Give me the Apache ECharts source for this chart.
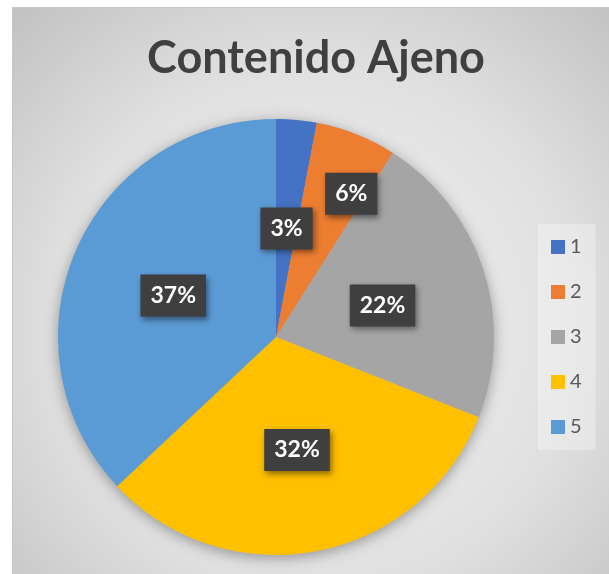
<!DOCTYPE html>
<html>
<head>
<meta charset="utf-8">
<script src="https://cdn.jsdelivr.net/npm/echarts@6/dist/echarts.min.js"></script>
<style>
  html, body { margin: 0; padding: 0; background: #fff; }
  #chart { width: 609px; height: 574px; }
</style>
</head>
<body>
<div id="chart"></div>
<script>
"use strict";

// datos (porcentajes)
const categories = ["1", "2", "3", "4", "5"];
const values     = [3, 6, 22, 32, 37];
const colors     = ["#4472C4", "#ED7D31", "#A5A5A5", "#FFC000", "#5B9BD5"];

const chart = echarts.init(document.getElementById("chart"), null, { renderer: "canvas" });

const pieData = categories.map((c, i) => ({
  name: c,
  value: values[i],
  itemStyle: { color: colors[i] }
}));

const option = {
  backgroundColor: "#ffffff",
  animation: false,
  graphic: [{
    type: "rect",
    z: -10,
    silent: true,
    shape: { x: 12.5, y: 7.5, width: 610, height: 580 },
    style: {
      fill: {
        type: "radial", x: 0.5, y: 0.55, r: 0.75,
        colorStops: [
          { offset: 0, color: "#f4f4f4" },
          { offset: 0.6, color: "#e0e0e0" },
          { offset: 1, color: "#c2c2c2" }
        ]
      },
      stroke: "#c6c6c6",
      lineWidth: 1
    }
  }],
  title: {
    text: "Contenido Ajeno",
    left: 311,
    textAlign: "center",
    top: 31,
    textStyle: {
      fontFamily: "Lato",
      fontSize: 45,
      fontWeight: "bold",
      color: "#404040"
    }
  },
  legend: {
    orient: "vertical",
    left: 538,
    top: 224,
    padding: [13, 14, 13, 13],
    backgroundColor: "rgba(255,255,255,0.3)",
    icon: "rect",
    itemWidth: 14,
    itemHeight: 14,
    itemGap: 25,
    data: categories,
    textStyle: { fontFamily: "Lato", fontSize: 20, lineHeight: 20, color: "#595959" }
  },
  series: [
    {
      // sombra detras del pastel
      type: "pie",
      silent: true,
      z: 1,
      center: [276, 337],
      radius: 218,
      startAngle: 90,
      data: values.map(v => ({ value: v })),
      itemStyle: {
        color: "#bbbbbb",
        shadowBlur: 14,
        shadowColor: "rgba(0,0,0,0.35)",
        shadowOffsetY: 3
      },
      label: { show: false },
      labelLine: { show: false },
      legendHoverLink: false
    },
    {
      type: "pie",
      z: 2,
      center: [276, 337],
      radius: 218,
      startAngle: 90,
      data: pieData,
      label: {
        show: true,
        position: "inside",
        formatter: "{c}%",
        fontFamily: "Lato",
        fontSize: 23,
        fontWeight: "bold",
        color: "#ffffff",
        lineHeight: 24,
        backgroundColor: "#3f3f3f",
        padding: [9, 10, 9, 10],
        shadowBlur: 6,
        shadowColor: "rgba(0,0,0,0.45)",
        shadowOffsetX: 2,
        shadowOffsetY: 3
      },
      labelLayout: function (p) {
        // la etiqueta de "2" esta desplazada hacia fuera
        if (p.dataIndex === 1) return { dx: 34, dy: -39 };
        return { dy: 3 };
      },
      labelLine: { show: false },
      emphasis: { scale: false }
    }
  ]
};

chart.setOption(option);
</script>
</body>
</html>
